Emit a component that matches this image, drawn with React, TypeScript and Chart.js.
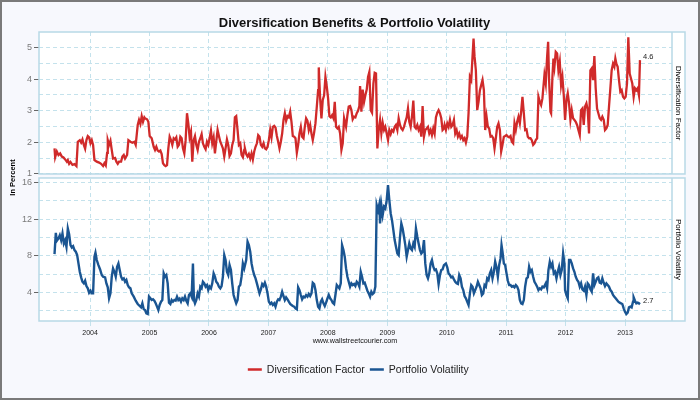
import { useEffect, useRef } from "react";
import { Chart, registerables } from "chart.js";

Chart.register(...registerables);

// ---------- data ----------
const divDates = [
  2003.401, 2003.412, 2003.44, 2003.468, 2003.496, 2003.524, 2003.552, 2003.58, 2003.608, 2003.625, 2003.647, 2003.67, 2003.703, 2003.737, 2003.77, 2003.793, 2003.826, 2003.849, 2003.871, 2003.894, 2003.916, 2003.938, 2003.961, 2003.983,
  2004.006, 2004.028, 2004.05, 2004.073, 2004.112, 2004.151, 2004.185, 2004.218, 2004.241, 2004.263, 2004.286, 2004.297, 2004.319, 2004.342, 2004.364, 2004.386, 2004.42, 2004.442, 2004.465, 2004.487, 2004.521, 2004.543, 2004.566, 2004.588, 2004.622, 2004.644, 2004.678, 2004.711, 2004.745, 2004.767, 2004.801, 2004.823, 2004.846, 2004.868, 2004.89, 2004.913, 2004.924, 2004.958, 2004.98,
  2005.002, 2005.036, 2005.07, 2005.092, 2005.114, 2005.137, 2005.159, 2005.182, 2005.204, 2005.226, 2005.249, 2005.271, 2005.294, 2005.316, 2005.338, 2005.361, 2005.383, 2005.406, 2005.428, 2005.45, 2005.473, 2005.495, 2005.518, 2005.54, 2005.562, 2005.585, 2005.607, 2005.63, 2005.652, 2005.674, 2005.697, 2005.719, 2005.742, 2005.764, 2005.786, 2005.809, 2005.831, 2005.854, 2005.876, 2005.898, 2005.921, 2005.943, 2005.966, 2005.988,
  2006.01, 2006.033, 2006.055, 2006.078, 2006.1, 2006.122, 2006.145, 2006.167, 2006.19, 2006.212, 2006.234, 2006.257, 2006.279, 2006.302, 2006.324, 2006.346, 2006.369, 2006.391, 2006.414, 2006.436, 2006.458, 2006.481, 2006.503, 2006.526, 2006.548, 2006.57, 2006.593, 2006.604, 2006.626, 2006.649, 2006.671, 2006.694, 2006.716, 2006.738, 2006.761, 2006.783, 2006.806, 2006.828, 2006.85, 2006.873, 2006.895, 2006.918, 2006.94, 2006.962, 2006.985,
  2007.007, 2007.03, 2007.052, 2007.074, 2007.097, 2007.119, 2007.142, 2007.164, 2007.186, 2007.209, 2007.231, 2007.254, 2007.276, 2007.298, 2007.321, 2007.343, 2007.366, 2007.388, 2007.41, 2007.433, 2007.455, 2007.478, 2007.5, 2007.522, 2007.545, 2007.567, 2007.59, 2007.612, 2007.634, 2007.657, 2007.679, 2007.702, 2007.724, 2007.746, 2007.769, 2007.791, 2007.814, 2007.836, 2007.847, 2007.87, 2007.892, 2007.914, 2007.937, 2007.959, 2007.982,
  2008.004, 2008.026, 2008.049, 2008.071, 2008.094, 2008.116, 2008.138, 2008.161, 2008.183, 2008.206, 2008.228, 2008.25, 2008.273, 2008.284, 2008.306, 2008.329, 2008.351, 2008.374, 2008.396, 2008.418, 2008.441, 2008.463, 2008.486, 2008.508, 2008.53, 2008.542, 2008.564, 2008.586, 2008.609, 2008.631, 2008.654, 2008.676, 2008.698, 2008.721, 2008.743, 2008.766, 2008.788, 2008.81, 2008.833, 2008.855, 2008.878, 2008.9, 2008.922, 2008.945, 2008.967, 2008.99,
  2009.012, 2009.034, 2009.057, 2009.079, 2009.102, 2009.124, 2009.146, 2009.169, 2009.191, 2009.214, 2009.236, 2009.258, 2009.281, 2009.303, 2009.326, 2009.348, 2009.37, 2009.393, 2009.415, 2009.438, 2009.46, 2009.482, 2009.505, 2009.527, 2009.55, 2009.572, 2009.594, 2009.617, 2009.639, 2009.662, 2009.684, 2009.706, 2009.729, 2009.751, 2009.774, 2009.796, 2009.818, 2009.841, 2009.863, 2009.886, 2009.908, 2009.93, 2009.953, 2009.964, 2009.986,
  2010.009, 2010.031, 2010.054, 2010.076, 2010.098, 2010.121, 2010.143, 2010.166, 2010.188, 2010.21, 2010.233, 2010.255, 2010.278, 2010.3, 2010.322, 2010.345, 2010.367, 2010.39, 2010.412, 2010.434, 2010.451, 2010.468, 2010.49, 2010.513, 2010.535, 2010.558, 2010.58, 2010.602, 2010.625, 2010.647, 2010.67, 2010.692, 2010.714, 2010.737, 2010.759, 2010.782, 2010.804, 2010.826, 2010.849, 2010.871, 2010.894, 2010.916, 2010.938, 2010.961, 2010.983,
  2011.006, 2011.028, 2011.05, 2011.073, 2011.095, 2011.118, 2011.14, 2011.162, 2011.185, 2011.207, 2011.23, 2011.252, 2011.274, 2011.297, 2011.319, 2011.342, 2011.364, 2011.386, 2011.409, 2011.431, 2011.454, 2011.476, 2011.498, 2011.521, 2011.543, 2011.566, 2011.588, 2011.61, 2011.644, 2011.666, 2011.689, 2011.706, 2011.722, 2011.745, 2011.756, 2011.778, 2011.795, 2011.812, 2011.834, 2011.857, 2011.879, 2011.902, 2011.924, 2011.946, 2011.969, 2011.991,
  2012.014, 2012.036, 2012.058, 2012.081, 2012.103, 2012.126, 2012.148, 2012.17, 2012.193, 2012.215, 2012.238, 2012.26, 2012.282, 2012.305, 2012.327, 2012.35, 2012.372, 2012.394, 2012.417, 2012.439, 2012.462, 2012.484, 2012.506, 2012.529, 2012.551, 2012.574, 2012.596, 2012.618, 2012.641, 2012.663, 2012.686, 2012.708, 2012.73, 2012.753, 2012.775, 2012.798, 2012.82, 2012.837, 2012.854, 2012.876, 2012.898, 2012.921, 2012.943, 2012.966, 2012.988,
  2013.01, 2013.033, 2013.055, 2013.078, 2013.1, 2013.122, 2013.145, 2013.167, 2013.19, 2013.212, 2013.234, 2013.251,
];
const divValues = [
  1.81, 1.53, 1.71, 1.6, 1.65, 1.55, 1.52, 1.46, 1.39, 1.44, 1.32, 1.38, 1.29, 1.31, 1.25, 2.02, 2.07, 1.99, 2.09, 1.92, 1.8, 2.07, 2.2, 2.16,
  1.97, 2.07, 1.92, 1.44, 1.39, 1.36, 1.32, 1.25, 1.34, 1.27, 1.67, 2.07, 1.92, 2.05, 1.76, 1.49, 1.51, 1.39, 1.32, 1.39, 1.39, 1.55, 1.6, 1.49, 1.6, 2.07, 2.02, 1.99, 2.02, 1.92, 2.55, 2.71, 2.58, 2.83, 2.65, 2.79, 2.76, 2.73, 2.65,
  2.2, 2.13, 1.86, 1.76, 1.86, 1.74, 1.71, 1.74, 1.63, 1.34, 1.28, 1.25, 1.28, 1.81, 2.18, 2.07, 1.92, 2.13, 2.09, 2.16, 1.86, 1.92, 2.18, 2.13, 1.81, 1.65, 2.07, 2.92, 2.6, 2.16, 2.34, 1.39, 2.07, 2.2, 1.92, 1.76, 2.02, 2.13, 2.26, 1.97, 1.86, 1.78, 2.02, 1.92,
  2.13, 2.37, 1.97, 2.16, 1.65, 2.02, 2.39, 2.2, 2.02, 1.92, 1.81, 1.55, 1.81, 2.09, 1.92, 1.57, 1.65, 1.92, 2.07, 2.79, 2.83, 2.39, 1.92, 1.97, 1.6, 1.53, 1.76, 1.81, 1.63, 1.55, 1.63, 1.49, 1.65, 1.46, 1.71, 1.86, 1.97, 2.23, 2.18, 1.92, 1.86, 1.97, 1.81, 1.78, 1.86,
  2.07, 2.39, 2.16, 2.49, 2.52, 2.47, 2.2, 2.02, 1.81, 2.02, 2.28, 2.71, 2.92, 2.68, 2.83, 2.79, 2.97, 2.65, 2.2, 2.18, 2.13, 1.67, 1.92, 2.28, 2.49, 2.18, 2.13, 2.49, 2.76, 2.68, 2.39, 2.55, 2.28, 2.07, 2.31, 2.6, 3.13, 3.65, 4.37, 3.39, 2.76, 3.34, 3.49, 4.07, 3.76,
  3.39, 2.83, 2.79, 2.86, 2.76, 3.28, 2.49, 2.44, 2.49, 2.28, 1.76, 1.97, 2.76, 2.76, 2.49, 2.86, 3.13, 3.15, 3.02, 2.73, 2.81, 2.79, 2.92, 3.0, 3.15, 3.78, 2.97, 3.67, 3.28, 3.49, 3.67, 4.07, 4.23, 3.02, 2.94, 3.86, 4.2, 4.18, 1.81, 2.39, 2.71, 2.28, 2.62, 2.39, 2.49, 2.28,
  2.07, 2.39, 2.26, 2.39, 2.34, 2.49, 2.55, 2.39, 2.76, 2.55, 2.44, 2.39, 2.49, 2.65, 2.79, 3.07, 2.65, 2.49, 2.81, 3.32, 2.49, 2.44, 2.55, 2.39, 2.49, 2.18, 3.15, 2.18, 2.39, 2.44, 2.49, 2.28, 2.39, 2.23, 2.44, 2.28, 2.79, 2.94, 3.02, 2.92, 2.76, 2.39, 2.44, 2.55, 2.39,
  2.6, 2.49, 2.71, 2.49, 2.55, 2.71, 2.28, 2.39, 2.18, 2.28, 2.13, 2.2, 2.07, 2.13, 1.99, 2.18, 2.92, 4.07, 3.97, 4.71, 5.28, 4.71, 4.28, 3.02, 3.28, 3.65, 3.81, 3.97, 3.65, 2.39, 2.81, 2.49, 2.44, 2.18, 2.2, 2.13, 1.81, 2.13, 2.49, 2.6, 2.39, 1.71, 1.92, 2.18, 2.2,
  2.23, 2.18, 2.16, 2.2, 2.02, 1.97, 2.6, 2.39, 2.65, 2.81, 2.6, 2.97, 3.44, 2.92, 2.39, 2.41, 2.18, 2.13, 2.13, 2.07, 1.92, 1.97, 2.07, 2.13, 3.44, 3.28, 3.18, 3.39, 4.13, 3.86, 4.71, 5.18, 3.97, 2.97, 2.92, 4.07, 4.65, 4.39, 4.86, 4.81, 4.28, 4.55, 3.81, 4.07, 3.49, 2.71,
  3.34, 3.55, 3.23, 2.71, 3.02, 2.76, 2.71, 2.65, 2.55, 2.39, 2.23, 3.02, 3.07, 2.55, 3.13, 3.23, 3.02, 2.28, 4.28, 4.34, 3.97, 4.73, 3.71, 3.07, 2.92, 2.76, 2.71, 2.81, 2.71, 2.39, 2.44, 2.55, 3.13, 3.71, 4.28, 4.49, 4.39, 4.65, 4.49, 4.39, 3.97, 3.6, 3.65, 3.44, 3.39,
  3.44, 3.86, 5.32, 4.18, 4.02, 3.86, 3.44, 3.71, 3.65, 3.71, 3.49, 4.6,
];

const volDates = [
  2003.401, 2003.423, 2003.44, 2003.468, 2003.49, 2003.513, 2003.535, 2003.558, 2003.58, 2003.602, 2003.625, 2003.647, 2003.67, 2003.692, 2003.714, 2003.737, 2003.759, 2003.782, 2003.804, 2003.826, 2003.849, 2003.871, 2003.894, 2003.916, 2003.938, 2003.961, 2003.983,
  2004.006, 2004.028, 2004.05, 2004.073, 2004.09, 2004.112, 2004.14, 2004.168, 2004.196, 2004.218, 2004.252, 2004.274, 2004.297, 2004.319, 2004.342, 2004.364, 2004.386, 2004.409, 2004.431, 2004.454, 2004.476, 2004.498, 2004.521, 2004.543, 2004.566, 2004.588, 2004.61, 2004.633, 2004.655, 2004.678, 2004.7, 2004.734, 2004.767, 2004.801, 2004.834, 2004.857, 2004.879, 2004.902, 2004.924, 2004.946, 2004.969, 2004.991,
  2005.014, 2005.036, 2005.058, 2005.081, 2005.103, 2005.126, 2005.148, 2005.17, 2005.193, 2005.215, 2005.238, 2005.26, 2005.282, 2005.305, 2005.327, 2005.35, 2005.372, 2005.394, 2005.417, 2005.439, 2005.462, 2005.484, 2005.506, 2005.529, 2005.551, 2005.574, 2005.596, 2005.618, 2005.641, 2005.663, 2005.686, 2005.708, 2005.73, 2005.747, 2005.764, 2005.786, 2005.809, 2005.831, 2005.854, 2005.876, 2005.898, 2005.921, 2005.943, 2005.966, 2005.988,
  2006.01, 2006.033, 2006.055, 2006.078, 2006.1, 2006.122, 2006.145, 2006.167, 2006.19, 2006.212, 2006.234, 2006.257, 2006.279, 2006.302, 2006.324, 2006.346, 2006.369, 2006.391, 2006.414, 2006.436, 2006.458, 2006.481, 2006.503, 2006.526, 2006.548, 2006.57, 2006.593, 2006.626, 2006.649, 2006.671, 2006.694, 2006.716, 2006.738, 2006.761, 2006.783, 2006.806, 2006.828, 2006.85, 2006.873, 2006.895, 2006.918, 2006.94, 2006.962, 2006.985,
  2007.007, 2007.03, 2007.052, 2007.074, 2007.097, 2007.119, 2007.142, 2007.164, 2007.186, 2007.209, 2007.231, 2007.254, 2007.276, 2007.298, 2007.321, 2007.343, 2007.366, 2007.388, 2007.41, 2007.433, 2007.455, 2007.478, 2007.5, 2007.522, 2007.545, 2007.567, 2007.59, 2007.612, 2007.634, 2007.657, 2007.679, 2007.702, 2007.724, 2007.746, 2007.769, 2007.791, 2007.814, 2007.836, 2007.858, 2007.881, 2007.903, 2007.926, 2007.948, 2007.97, 2007.993,
  2008.015, 2008.038, 2008.06, 2008.082, 2008.105, 2008.127, 2008.15, 2008.172, 2008.194, 2008.217, 2008.239, 2008.262, 2008.284, 2008.306, 2008.329, 2008.351, 2008.374, 2008.396, 2008.418, 2008.441, 2008.463, 2008.486, 2008.508, 2008.53, 2008.553, 2008.575, 2008.598, 2008.62, 2008.642, 2008.665, 2008.687, 2008.71, 2008.732, 2008.754, 2008.777, 2008.799, 2008.822, 2008.844, 2008.866, 2008.878, 2008.9, 2008.922, 2008.945, 2008.967, 2008.99,
  2009.012, 2009.034, 2009.057, 2009.079, 2009.102, 2009.124, 2009.146, 2009.169, 2009.191, 2009.214, 2009.236, 2009.258, 2009.281, 2009.303, 2009.326, 2009.348, 2009.37, 2009.393, 2009.415, 2009.438, 2009.46, 2009.482, 2009.505, 2009.527, 2009.55, 2009.572, 2009.594, 2009.617, 2009.639, 2009.662, 2009.684, 2009.706, 2009.729, 2009.751, 2009.774, 2009.796, 2009.818, 2009.841, 2009.863, 2009.886, 2009.908, 2009.93, 2009.953, 2009.986,
  2010.009, 2010.031, 2010.054, 2010.076, 2010.098, 2010.121, 2010.143, 2010.166, 2010.188, 2010.21, 2010.233, 2010.255, 2010.278, 2010.3, 2010.322, 2010.345, 2010.367, 2010.39, 2010.412, 2010.434, 2010.457, 2010.479, 2010.502, 2010.524, 2010.546, 2010.569, 2010.591, 2010.614, 2010.636, 2010.658, 2010.681, 2010.703, 2010.726, 2010.748, 2010.77, 2010.793, 2010.815, 2010.838, 2010.86, 2010.882, 2010.905, 2010.922, 2010.938, 2010.961, 2010.983,
  2011.006, 2011.028, 2011.05, 2011.073, 2011.095, 2011.118, 2011.14, 2011.162, 2011.185, 2011.207, 2011.23, 2011.252, 2011.274, 2011.297, 2011.319, 2011.342, 2011.364, 2011.386, 2011.409, 2011.431, 2011.454, 2011.476, 2011.498, 2011.521, 2011.543, 2011.566, 2011.588, 2011.61, 2011.633, 2011.666, 2011.689, 2011.711, 2011.734, 2011.756, 2011.778, 2011.801, 2011.823, 2011.846, 2011.868, 2011.89, 2011.913, 2011.935, 2011.958, 2011.98, 2011.991,
  2012.014, 2012.036, 2012.058, 2012.081, 2012.103, 2012.126, 2012.148, 2012.17, 2012.193, 2012.215, 2012.238, 2012.26, 2012.282, 2012.305, 2012.327, 2012.35, 2012.372, 2012.394, 2012.417, 2012.439, 2012.462, 2012.484, 2012.506, 2012.529, 2012.551, 2012.574, 2012.596, 2012.618, 2012.641, 2012.663, 2012.686, 2012.708, 2012.73, 2012.753, 2012.775, 2012.798, 2012.82, 2012.842, 2012.865, 2012.887, 2012.91, 2012.932, 2012.954, 2012.977, 2012.999,
  2013.022, 2013.044, 2013.066, 2013.089, 2013.111, 2013.134, 2013.145, 2013.167, 2013.19, 2013.212, 2013.234, 2013.251,
];
const volValues = [
  8.18, 10.5, 9.64, 9.9, 10.25, 9.7, 10.44, 9.35, 9.7, 8.98, 10.98, 10.36, 9.16, 8.9, 9.05, 8.62, 8.44, 8.07, 7.16, 6.25, 5.64, 5.16, 4.98, 5.27, 4.69, 4.44, 3.96,
  4.18, 3.89, 3.89, 7.89, 8.33, 7.53, 6.98, 6.5, 5.89, 5.71, 5.64, 4.98, 4.55, 3.35, 3.89, 5.71, 6.62, 6.25, 5.71, 6.8, 7.16, 6.44, 5.71, 5.42, 5.53, 5.16, 5.35, 4.8, 4.55, 4.44, 3.89, 3.53, 3.09, 2.73, 2.51, 2.36, 2.8, 2.15, 2.07, 1.71, 1.64, 3.53,
  3.35, 3.16, 3.24, 3.09, 2.8, 2.44, 2.07, 2.62, 2.98, 3.16, 6.07, 5.71, 5.89, 4.98, 2.87, 2.73, 3.16, 2.98, 3.16, 3.09, 3.53, 3.16, 3.31, 2.98, 3.35, 3.16, 3.53, 3.09, 2.8, 3.71, 3.89, 3.53, 7.16, 3.16, 2.8, 3.16, 3.89, 3.53, 4.62, 4.44, 5.16, 4.98, 4.62, 4.8, 4.25,
  4.62, 4.44, 4.98, 6.07, 5.71, 5.16, 4.98, 4.62, 4.44, 4.69, 5.71, 8.07, 7.53, 6.25, 5.89, 6.98, 6.44, 4.98, 3.71, 3.24, 2.8, 3.16, 4.62, 4.8, 5.71, 7.16, 6.62, 7.53, 9.53, 9.16, 8.44, 7.16, 6.44, 5.89, 5.53, 4.98, 4.44, 3.89, 4.33, 4.91, 4.69, 5.05, 4.62, 3.89,
  2.98, 2.73, 2.87, 2.62, 2.8, 2.44, 2.98, 3.24, 3.16, 3.53, 4.07, 3.6, 3.16, 3.45, 3.24, 2.98, 2.73, 2.62, 2.51, 2.44, 2.25, 2.15, 4.55, 4.25, 3.71, 3.24, 3.53, 3.45, 3.71, 3.53, 3.82, 3.6, 3.89, 5.05, 4.91, 4.25, 3.16, 2.44, 2.25, 2.98, 3.24, 2.8, 2.51, 2.87, 3.35,
  3.71, 3.35, 3.16, 2.87, 2.73, 3.71, 4.8, 4.62, 4.44, 4.98, 9.16, 8.62, 7.89, 6.62, 5.71, 5.16, 4.62, 4.98, 4.8, 4.91, 4.69, 5.16, 4.98, 4.62, 6.25, 5.71, 4.98, 5.05, 4.62, 4.18, 3.89, 3.53, 4.07, 3.82, 3.96, 4.62, 13.53, 12.98, 13.64, 11.53, 13.53, 12.44, 13.35, 13.16, 14.07,
  15.71, 14.07, 12.62, 11.89, 10.8, 9.71, 8.98, 8.25, 8.07, 10.07, 11.53, 10.98, 10.07, 9.16, 7.89, 8.62, 9.35, 8.8, 8.62, 9.35, 8.98, 10.98, 10.07, 9.35, 8.62, 8.25, 8.44, 9.71, 7.16, 5.89, 5.53, 6.07, 7.16, 7.53, 6.8, 6.44, 6.51, 6.07, 4.9, 5.89, 6.44, 6.51, 6.98, 7.16,
  6.73, 6.07, 5.89, 5.64, 5.71, 5.42, 5.16, 4.98, 4.91, 5.89, 5.53, 4.62, 4.25, 3.6, 3.35, 2.98, 2.62, 3.89, 4.8, 4.62, 3.89, 4.25, 4.62, 5.16, 4.8, 4.44, 3.71, 3.89, 4.8, 4.62, 5.53, 5.35, 6.07, 6.44, 5.53, 6.25, 7.35, 6.73, 5.71, 6.98, 7.71, 9.16, 8.44, 7.16, 6.98,
  6.07, 5.27, 4.8, 4.8, 4.62, 4.69, 4.55, 4.8, 4.62, 4.25, 3.16, 2.8, 2.73, 3.16, 4.62, 5.53, 5.64, 6.8, 6.25, 6.44, 5.71, 5.16, 4.91, 4.62, 4.25, 4.44, 4.33, 4.62, 4.55, 4.98, 4.44, 6.44, 7.35, 6.8, 7.16, 6.07, 6.25, 5.53, 6.25, 6.8, 5.89, 6.44, 8.25, 7.16, 4.25,
  3.71, 3.35, 7.53, 7.53, 7.16, 6.62, 6.25, 5.71, 5.35, 5.16, 4.62, 4.98, 4.33, 4.18, 4.62, 3.71, 4.98, 4.8, 4.33, 4.07, 6.07, 4.8, 5.16, 5.53, 5.64, 5.05, 4.98, 5.53, 5.05, 4.69, 4.98, 4.8, 4.62, 4.25, 4.07, 3.71, 3.53, 3.35, 3.16, 2.98, 2.87, 2.8, 2.73, 2.25, 1.89,
  1.64, 1.78, 2.36, 2.44, 2.36, 2.98, 3.45, 3.09, 2.8, 2.87, 2.8, 2.7,
];

const yearTicks = [2004, 2005, 2006, 2007, 2008, 2009, 2010, 2011, 2012, 2013];
const divTicks = [1, 1.5, 2, 2.5, 3, 3.5, 4, 4.5, 5];
const volTicks = [2, 4, 6, 8, 10, 12, 14, 16];

const TITLE = "Diversification Benefits & Portfolio Volatility";
const Y_TITLE = "In Percent";
const FOOTER = "www.wallstreetcourier.com";
const DIV_LABEL = "Diversification Factor";
const VOL_LABEL = "Portfolio Volatility";

// ---------- styling ----------
const FONT = "'Liberation Sans', Arial, Helvetica, sans-serif";
const BG = "#f7f8fd";
const GRID = "#c4e2ec";
const PANEL_BORDER = "#b8d9e6";
const RED = "#d02a2a";
const BLUE = "#1a5592";

const isInt = (v: number) => Math.abs(v - Math.round(v)) < 1e-9;

const decorPlugin = {
  id: "decor",
  beforeDraw(chart: any) {
    const { ctx, chartArea } = chart;
    const y1 = chart.scales.y1;
    const y2 = chart.scales.y2;
    ctx.save();
    ctx.fillStyle = BG;
    ctx.fillRect(0, 0, chart.width, chart.height);
    const p1b = y1.getPixelForValue(1);
    const p2t = p1b + 4;
    ctx.fillStyle = "#ffffff";
    ctx.fillRect(chartArea.left, y1.top, chartArea.right + 13 - chartArea.left, p1b - y1.top);
    ctx.fillRect(chartArea.left, p2t, chartArea.right + 13 - chartArea.left, y2.bottom - p2t);
    ctx.restore();
  },
  beforeDatasetsDraw(chart: any) {
    const { ctx, chartArea } = chart;
    const y1 = chart.scales.y1;
    const y2 = chart.scales.y2;
    const p1b = y1.getPixelForValue(1);
    const p2t = p1b + 4;
    const L = chartArea.left;
    const R = chartArea.right;
    ctx.save();
    ctx.fillStyle = BG;
    ctx.fillRect(L - 1, p1b + 1, R + 15 - L, p2t - p1b - 2);
    ctx.strokeStyle = PANEL_BORDER;
    ctx.lineWidth = 1.5;
    ctx.strokeRect(L, y1.top, R + 13 - L, p1b - y1.top);
    ctx.strokeRect(L, p2t, R + 13 - L, y2.bottom - p2t);
    ctx.beginPath();
    ctx.moveTo(R, y1.top);
    ctx.lineTo(R, p1b);
    ctx.moveTo(R, p2t);
    ctx.lineTo(R, y2.bottom);
    ctx.stroke();
    ctx.restore();
  },
  afterDraw(chart: any) {
    const { ctx, chartArea } = chart;
    const y1 = chart.scales.y1;
    const y2 = chart.scales.y2;
    const p1b = y1.getPixelForValue(1);
    const p2t = p1b + 4;
    ctx.save();
    // title
    ctx.fillStyle = "#111";
    ctx.font = `bold 13px ${FONT}`;
    ctx.textAlign = "center";
    ctx.textBaseline = "middle";
    ctx.fillText(TITLE, 354.5, 23);

    // y title
    ctx.save();
    ctx.translate(13, (y1.top + y2.bottom) / 2 + 1);
    ctx.rotate(-Math.PI / 2);
    ctx.font = `bold 7.5px ${FONT}`;
    ctx.fillStyle = "#000";
    ctx.fillText(Y_TITLE, 0, 0);
    ctx.restore();

    // right strip labels
    const sx = chartArea.right + 6.5;
    ctx.font = `8px ${FONT}`;
    ctx.fillStyle = "#000";
    ctx.save();
    ctx.translate(sx, (y1.top + p1b) / 2);
    ctx.rotate(Math.PI / 2);
    ctx.fillText(DIV_LABEL, 0, 0);
    ctx.restore();
    ctx.save();
    ctx.translate(sx, (p2t + y2.bottom) / 2);
    ctx.rotate(Math.PI / 2);
    ctx.fillText(VOL_LABEL, 0, 0);
    ctx.restore();

    // last value labels
    ctx.font = `7.5px ${FONT}`;
    ctx.fillStyle = "#222";
    ctx.textAlign = "left";
    [0, 1].forEach((i) => {
      const meta = chart.getDatasetMeta(i);
      const pts = meta.data;
      const last = pts[pts.length - 1];
      const vals = chart.data.datasets[i].data;
      const v = vals[vals.length - 1].y;
      ctx.fillText(v.toFixed(1), last.x + 3, last.y - 3);
    });

    // footer
    ctx.textAlign = "center";
    ctx.font = `7.2px ${FONT}`;
    ctx.fillStyle = "#111";
    ctx.fillText(FOOTER, 355, 341);

    // legend
    ctx.font = `10.5px ${FONT}`;
    const items = chart.data.datasets.map((d: any) => ({ label: d.label, color: d.borderColor }));
    const lineW = 14;
    const gapA = 5;
    const gapB = 5;
    const widths = items.map((it: any) => ctx.measureText(it.label).width);
    let total = 0;
    widths.forEach((w: number, i: number) => {
      total += lineW + gapA + w + (i < widths.length - 1 ? gapB : 0);
    });
    let x = 358.3 - total / 2;
    const ly = 369.5;
    ctx.textAlign = "left";
    items.forEach((it: any, i: number) => {
      ctx.strokeStyle = it.color;
      ctx.lineWidth = 2.5;
      ctx.beginPath();
      ctx.moveTo(x, ly);
      ctx.lineTo(x + lineW, ly);
      ctx.stroke();
      x += lineW + gapA;
      ctx.fillStyle = "#222";
      ctx.fillText(it.label, x, ly + 0.5);
      x += widths[i] + gapB;
    });

    // outer border
    ctx.strokeStyle = "#7a7a7a";
    ctx.lineWidth = 2;
    ctx.strokeRect(1, 1, chart.width - 2, chart.height - 2);
    ctx.restore();
  },
};

export default function App() {
  const canvasRef = useRef<HTMLCanvasElement | null>(null);

  useEffect(() => {
    const canvas = canvasRef.current;
    if (!canvas) return;
    document.body.style.margin = "0";

    const divData = divDates.map((d, i) => ({ x: d, y: divValues[i] }));
    const volData = volDates.map((d, i) => ({ x: d, y: volValues[i] }));

    const yCommon = (ticksArr: number[], labelEvery: number) => ({
      type: "linear" as const,
      position: "left" as const,
      stack: "panels",
      stackWeight: 1,
      border: { display: false, dash: [4, 3] },
      grid: {
        color: GRID,
        lineWidth: 1,
        drawTicks: true,
        tickLength: 5,
        tickColor: (c: any) =>
          c.tick && isInt(c.tick.value / labelEvery) ? "#666" : "rgba(0,0,0,0)",
      },
      ticks: {
        font: { family: FONT, size: 9 },
        color: "#7a7a7a",
        padding: 2,
        autoSkip: false,
        callback: (v: any) => (isInt(Number(v) / labelEvery) ? String(v) : ""),
      },
      afterBuildTicks: (s: any) => {
        s.ticks = ticksArr.map((v) => ({ value: v }));
      },
      afterFit: (s: any) => {
        s.width = 39;
      },
    });

    const chart = new Chart(canvas, {
      type: "line",
      data: {
        datasets: [
          {
            label: DIV_LABEL,
            data: divData,
            yAxisID: "y1",
            borderColor: RED,
            backgroundColor: RED,
            borderWidth: 2.3,
            pointRadius: 0,
            tension: 0,
          },
          {
            label: VOL_LABEL,
            data: volData,
            yAxisID: "y2",
            borderColor: BLUE,
            backgroundColor: BLUE,
            borderWidth: 2.4,
            pointRadius: 0,
            tension: 0,
          },
        ],
      },
      options: {
        responsive: false,
        animation: false,
        devicePixelRatio: 1,
        layout: { padding: { left: 0, right: 28, top: 32, bottom: 59 } },
        plugins: {
          legend: { display: false },
          title: { display: false },
          tooltip: { enabled: false },
        },
        scales: {
          x: {
            type: "linear",
            min: 2003.14,
            max: 2013.79,
            border: { display: false, dash: [4, 3] },
            grid: { color: GRID, tickLength: 5, tickColor: GRID },
            ticks: {
              font: { family: FONT, size: 7 },
              color: "#222",
              padding: 3,
              autoSkip: false,
              maxRotation: 0,
              callback: (v: any) => String(v),
            },
            afterBuildTicks: (s: any) => {
              s.ticks = yearTicks.map((v) => ({ value: v }));
            },
            afterFit: (s: any) => {
              s.height = 20;
            },
          },
          y2: { ...yCommon(volTicks, 4), min: 0.87, max: 16.66 },
          y1: { ...yCommon(divTicks, 1), min: 0.92, max: 5.49 },
        },
      },
      plugins: [decorPlugin],
    });

    return () => chart.destroy();
  }, []);

  return (
    <div style={{ position: "fixed", left: 0, top: 0, width: 700, height: 400 }}>
      <canvas ref={canvasRef} width={700} height={400} style={{ display: "block" }} />
    </div>
  );
}
